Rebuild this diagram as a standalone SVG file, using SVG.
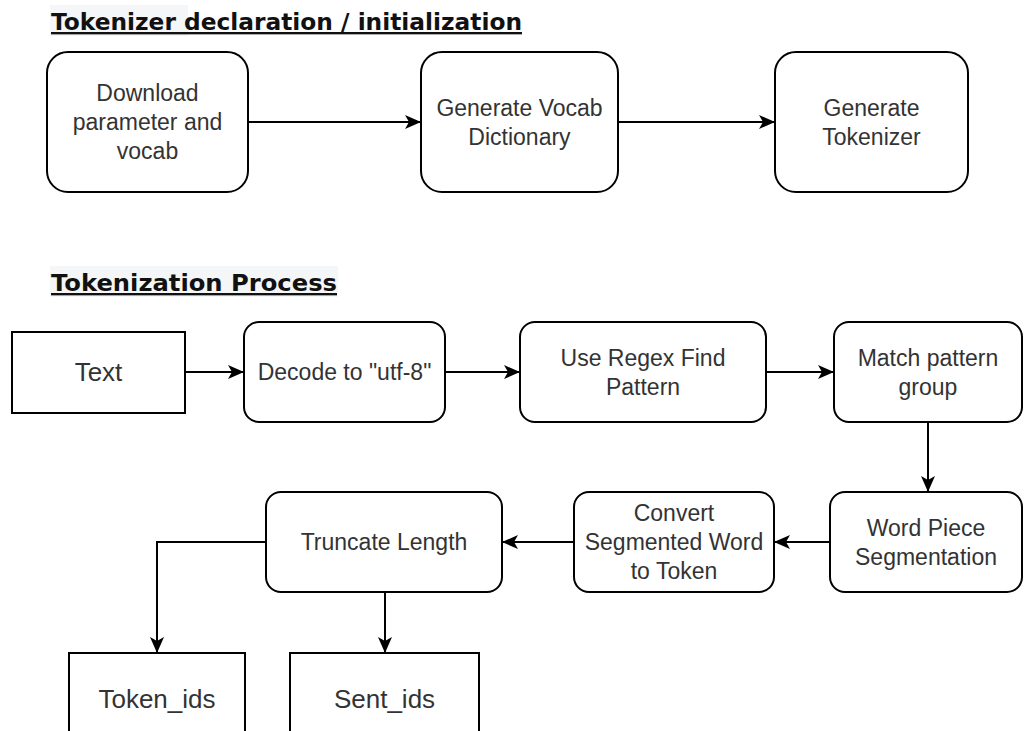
<svg xmlns="http://www.w3.org/2000/svg" width="1027" height="731" viewBox="0 0 1027 731">
<defs>
<style>
.box{fill:#fff;stroke:#000;stroke-width:2}
.t{font-family:"Liberation Sans",Arial,sans-serif;font-size:23px;fill:#333;text-anchor:middle}
.tb{font-family:"Liberation Sans",Arial,sans-serif;font-size:26px;fill:#333;text-anchor:middle}
.h{font-family:"DejaVu Sans",Verdana,sans-serif;font-weight:bold;font-size:23.5px;fill:#111;text-decoration:underline}
.c{fill:none;stroke:#000;stroke-width:2}
.hl{fill:#f5f6f7}
</style>
<marker id="arr" viewBox="0 0 16 14" refX="16" refY="7" markerWidth="16" markerHeight="14" markerUnits="userSpaceOnUse" orient="auto">
<path d="M0,0 L16,7 L0,14 L4,7 Z" fill="#000"/>
</marker>
</defs>
<rect width="1027" height="731" fill="#fff"/>
<rect class="hl" x="50" y="5" width="138" height="31"/>
<rect class="hl" x="50" y="266" width="288" height="31"/>
<text class="h" x="51" y="30" textLength="471" lengthAdjust="spacingAndGlyphs">Tokenizer declaration / initialization</text>
<text class="h" x="51" y="291" textLength="286" lengthAdjust="spacingAndGlyphs">Tokenization Process</text>

<g id="connectors">
<path class="c" d="M248,122 H421" marker-end="url(#arr)"/>
<path class="c" d="M618,122 H775" marker-end="url(#arr)"/>
<path class="c" d="M185,372 H244" marker-end="url(#arr)"/>
<path class="c" d="M445,372 H520" marker-end="url(#arr)"/>
<path class="c" d="M766,372 H834" marker-end="url(#arr)"/>
<path class="c" d="M928,422 V492" marker-end="url(#arr)"/>
<path class="c" d="M830,542 H774" marker-end="url(#arr)"/>
<path class="c" d="M574,542 H502" marker-end="url(#arr)"/>
<path class="c" d="M266,542 H157 V653" marker-end="url(#arr)"/>
<path class="c" d="M385,592 V653" marker-end="url(#arr)"/>
</g>

<g id="download">
<rect class="box" x="47" y="52" width="201" height="140" rx="21"/>
<text class="t" x="147.5" y="101">Download</text>
<text class="t" x="147.5" y="130">parameter and</text>
<text class="t" x="147.5" y="159">vocab</text>
</g>
<g id="vocabdict">
<rect class="box" x="421" y="52" width="197" height="140" rx="21"/>
<text class="t" x="519.5" y="116">Generate Vocab</text>
<text class="t" x="519.5" y="145">Dictionary</text>
</g>
<g id="gentokenizer">
<rect class="box" x="775" y="52" width="193" height="140" rx="21"/>
<text class="t" x="871.5" y="116">Generate</text>
<text class="t" x="871.5" y="145">Tokenizer</text>
</g>

<g id="text">
<rect class="box" x="12" y="332" width="173" height="81"/>
<text class="tb" x="98.5" y="381">Text</text>
</g>
<g id="decode">
<rect class="box" x="244" y="322" width="201" height="100" rx="15"/>
<text class="t" x="344.5" y="380">Decode to "utf-8"</text>
</g>
<g id="regex">
<rect class="box" x="520" y="322" width="246" height="100" rx="15"/>
<text class="t" x="643" y="366">Use Regex Find</text>
<text class="t" x="643" y="395">Pattern</text>
</g>
<g id="match">
<rect class="box" x="834" y="322" width="188" height="100" rx="15"/>
<text class="t" x="928" y="366">Match pattern</text>
<text class="t" x="928" y="395">group</text>
</g>
<g id="wordpiece">
<rect class="box" x="830" y="492" width="192" height="100" rx="15"/>
<text class="t" x="926" y="536">Word Piece</text>
<text class="t" x="926" y="565">Segmentation</text>
</g>
<g id="convert">
<rect class="box" x="574" y="492" width="200" height="100" rx="15"/>
<text class="t" x="674" y="521">Convert</text>
<text class="t" x="674" y="550">Segmented Word</text>
<text class="t" x="674" y="579">to Token</text>
</g>
<g id="truncate">
<rect class="box" x="266" y="492" width="236" height="100" rx="15"/>
<text class="t" x="384" y="550">Truncate Length</text>
</g>
<g id="tokenids">
<rect class="box" x="69" y="653" width="176" height="100"/>
<text class="tb" x="157" y="708">Token_ids</text>
</g>
<g id="sentids">
<rect class="box" x="290" y="653" width="189" height="100"/>
<text class="tb" x="384.5" y="708">Sent_ids</text>
</g>
</svg>
